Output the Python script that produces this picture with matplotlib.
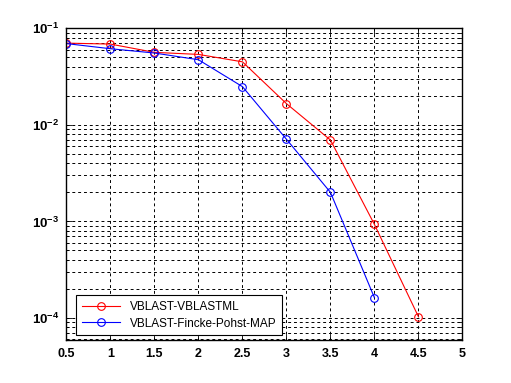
import matplotlib
matplotlib.use("Agg")
import numpy as np
import matplotlib.pyplot as plt
from matplotlib.ticker import LogLocator, NullFormatter, FixedLocator, FuncFormatter

plt.rcParams['font.family'] = ['Liberation Sans', 'DejaVu Sans']
plt.rcParams['mathtext.fontset'] = 'custom'
plt.rcParams['mathtext.rm'] = 'Liberation Sans:bold'
plt.rcParams['mathtext.bf'] = 'Liberation Sans:bold'
plt.rcParams['mathtext.default'] = 'bf'

snr = [0.5, 1, 1.5, 2, 2.5, 3, 3.5, 4, 4.5]
ber_ml = [0.0703, 0.0687, 0.0564, 0.0537, 0.045, 0.0166, 0.00697, 0.00093, 1.03e-4]
snr_fp = [0.5, 1, 1.5, 2, 2.5, 3, 3.5, 4]
ber_fp = [0.0695, 0.0615, 0.0555, 0.0473, 0.0249, 0.0071, 0.0020, 1.62e-4]
labels = ['VBLAST-VBLASTML', 'VBLAST-Fincke-Pohst-MAP']
xticks = [0.5, 1, 1.5, 2, 2.5, 3, 3.5, 4, 4.5, 5]
xticklabels = ['0.5', '1', '1.5', '2', '2.5', '3', '3.5', '4', '4.5', '5']

fig = plt.figure(figsize=(5.11, 3.83), dpi=100)
ax = fig.add_axes([0.13, 0.112, 0.775, 0.814])
ax.semilogy(snr, ber_ml, color='red', marker='o', mfc='none', ms=5.5, lw=0.8, mew=0.8, label=labels[0])
ax.semilogy(snr_fp, ber_fp, color='blue', marker='o', mfc='none', ms=5.5, lw=0.8, mew=0.8, label=labels[1])

ax.set_xlim(0.5, 5)
ax.set_ylim(5.9e-5, 0.1)
ax.xaxis.set_major_locator(FixedLocator(xticks))
ax.set_xticklabels(xticklabels, fontweight='bold', fontsize=9)
ax.yaxis.set_major_locator(LogLocator(base=10, numticks=10))
ax.yaxis.set_major_formatter(FuncFormatter(
    lambda v, p: r'$\mathbf{10^{%d}}$' % int(round(np.log10(v)))))
ax.yaxis.set_minor_locator(LogLocator(base=10, subs=range(2, 10), numticks=10))
ax.yaxis.set_minor_formatter(NullFormatter())
ax.tick_params(which='both', direction='in', top=True, right=True, width=0.6)
ax.tick_params(which='major', length=4)
ax.tick_params(which='minor', length=2)
ax.tick_params(axis='y', labelsize=9.5, pad=5)
ax.tick_params(axis='x', pad=6)

ax.grid(True, which='major', color='black', linestyle=(0, (3, 3)), linewidth=0.7)
ax.grid(True, which='minor', axis='y', color='black', linestyle=(0, (3, 3)), linewidth=0.7)
ax.set_axisbelow(True)
for s in ax.spines.values():
    s.set_linewidth(1.0)

leg = ax.legend(loc='lower left', bbox_to_anchor=(0.025, 0.015), fontsize=8.5, frameon=True,
                fancybox=False, edgecolor='black', framealpha=1, borderpad=0.5,
                handlelength=3.2, labelspacing=0.4, borderaxespad=0)
leg.get_frame().set_linewidth(0.8)

fig.savefig('out.png', dpi=100)
